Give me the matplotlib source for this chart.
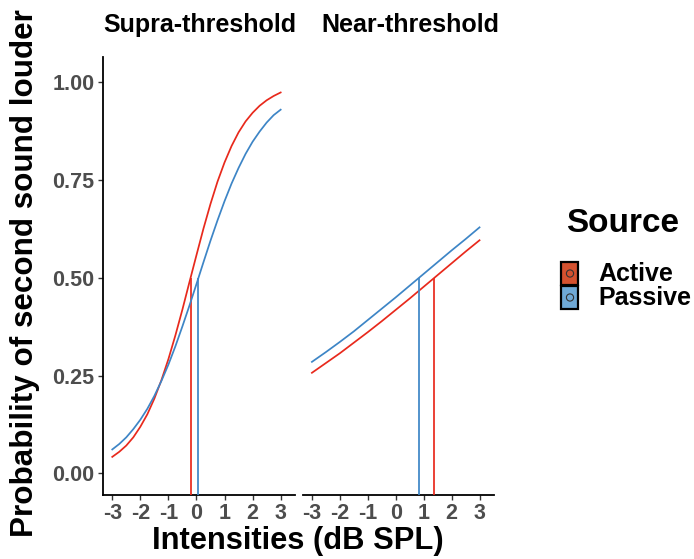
import numpy as np
import matplotlib
matplotlib.use("Agg")
import matplotlib.pyplot as plt
from matplotlib.patches import Rectangle, Circle

plt.rcParams['font.family'] = ['Liberation Sans', 'DejaVu Sans']
plt.rcParams['font.weight'] = 'bold'

# ── Data ─────────────────────────────────────────────────────────────────────
x_supra = [-3, -2.75, -2.5, -2.25, -2, -1.75, -1.5, -1.25, -1, -0.75, -0.5, -0.25,
           0, 0.25, 0.5, 0.75, 1, 1.25, 1.5, 1.75, 2, 2.25, 2.5, 2.75, 3]
supra_active = [0.042, 0.055, 0.071, 0.092, 0.119, 0.151, 0.191, 0.238, 0.292,
                0.353, 0.419, 0.489, 0.558, 0.626, 0.689, 0.746, 0.795, 0.837,
                0.872, 0.900, 0.922, 0.940, 0.954, 0.965, 0.974]
supra_passive = [0.061, 0.075, 0.092, 0.113, 0.137, 0.165, 0.198, 0.236, 0.278,
                 0.325, 0.376, 0.429, 0.484, 0.540, 0.595, 0.647, 0.696, 0.741,
                 0.781, 0.817, 0.848, 0.874, 0.897, 0.916, 0.930]

x_near = [-3, -2.5, -2, -1.5, -1, -0.5, 0, 0.5, 1, 1.5, 2, 2.5, 3]
near_active = [0.257, 0.282, 0.307, 0.334, 0.361, 0.389, 0.418, 0.447, 0.477,
               0.507, 0.537, 0.567, 0.596]
near_passive = [0.285, 0.310, 0.336, 0.363, 0.392, 0.421, 0.450, 0.480, 0.510,
                0.540, 0.570, 0.599, 0.629]

# points of subjective equality (x where p = 0.5)
pse_supra = {'Active': -0.21, 'Passive': 0.07}
pse_near = {'Active': 1.385, 'Passive': 0.83}

sources = ['Active', 'Passive']
line_colors = {'Active': '#E8291C', 'Passive': '#3D85C6'}
key_fills = {'Active': '#D4512F', 'Passive': '#6FA9D6'}
xticks = [-3, -2, -1, 0, 1, 2, 3]
yticks = [0.00, 0.25, 0.50, 0.75, 1.00]

W, H = 694, 559
fig = plt.figure(figsize=(W / 100, H / 100), dpi=100)
fig.patch.set_facecolor('white')

YLIM = (-0.0555, 1.0647)
XLIM = (-3.33, 3.5)
TICK_GRAY = '#4D4D4D'


def px_box(x0, x1, y_top, y_bot):
    return [x0 / W, 1 - y_bot / H, (x1 - x0) / W, (y_bot - y_top) / H]


ax_supra = fig.add_axes(px_box(103, 294.7, 57, 495))
ax_near = fig.add_axes(px_box(302.7, 493.5, 57, 495))

panels = [
    (ax_supra, x_supra, {'Active': supra_active, 'Passive': supra_passive}, pse_supra),
    (ax_near, x_near, {'Active': near_active, 'Passive': near_passive}, pse_near),
]

for ax, xs, curves, pse in panels:
    for src in sources:
        ax.plot(xs, curves[src], color=line_colors[src], lw=1.25, zorder=3)
        ax.vlines(pse[src], YLIM[0], 0.5, color=line_colors[src], lw=1.25, zorder=3)
    ax.set_xlim(*XLIM)
    ax.set_ylim(*YLIM)
    ax.set_xticks(xticks)
    ax.set_xticklabels([str(t) for t in xticks])
    for side in ['top', 'right']:
        ax.spines[side].set_visible(False)
    ax.spines['bottom'].set_linewidth(1.3)
    ax.spines['left'].set_linewidth(1.3)
    ax.tick_params(axis='both', length=3.5, width=1.0, color='#333333',
                   labelsize=15.5, labelcolor=TICK_GRAY, pad=2.5)
    for lab in ax.get_xticklabels() + ax.get_yticklabels():
        lab.set_fontweight('bold')

ax_supra.set_yticks(yticks)
ax_supra.set_yticklabels([f"{t:.2f}" for t in yticks])
ax_near.spines['left'].set_visible(False)
ax_near.set_yticks([])

# facet strip titles
fig.text(199.5 / W, 1 - 25 / H, 'Supra-threshold', ha='center', va='center',
         fontsize=18, fontweight='bold')
fig.text(410.5 / W, 1 - 25 / H, 'Near-threshold', ha='center', va='center',
         fontsize=18, fontweight='bold')

# axis titles
fig.text(297.5 / W, 1 - 541 / H, 'Intensities (dB SPL)', ha='center', va='center',
         fontsize=22.2, fontweight='bold')
fig.text(25 / W, 1 - 273 / H, 'Probability of second sound louder', ha='center',
         va='center', rotation=90, fontsize=22.6, fontweight='bold')

# ── Legend drawn in pixel space ─────────────────────────────────────────────
lax = fig.add_axes([0, 0, 1, 1], zorder=-1)
lax.set_xlim(0, W)
lax.set_ylim(H, 0)
lax.axis('off')
lax.text(623, 224, 'Source', ha='center', va='center', fontsize=24, fontweight='bold')
key_tops = {'Active': 262, 'Passive': 286}
for src in sources:
    top = key_tops[src]
    lax.add_patch(Rectangle((561.5, top), 17, 23, facecolor=key_fills[src],
                            edgecolor='black', lw=1.6))
    lax.add_patch(Circle((570, top + 11.5), 3.6, facecolor='none',
                         edgecolor='#333333', lw=0.8))
    lax.text(598, top + 12, src, ha='left', va='center', fontsize=18,
             fontweight='bold')

fig.savefig('out.png', dpi=100)
